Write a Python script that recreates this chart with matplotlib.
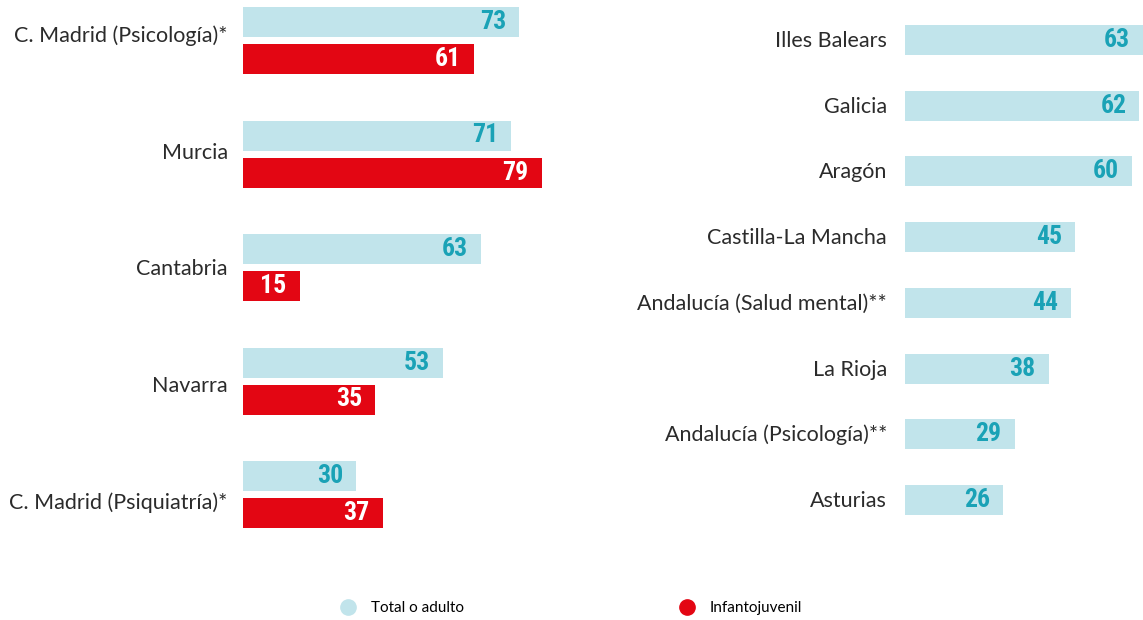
import matplotlib

matplotlib.use("Agg")
import matplotlib.pyplot as plt
from matplotlib.lines import Line2D

# left panel: two series per region
left_regions = [
    "C. Madrid (Psicología)*",
    "Murcia",
    "Cantabria",
    "Navarra",
    "C. Madrid (Psiquiatría)*",
]
left_total = [73, 71, 63, 53, 30]
left_infanto = [61, 79, 15, 35, 37]

# right panel: total only
right_regions = [
    "Illes Balears",
    "Galicia",
    "Aragón",
    "Castilla-La Mancha",
    "Andalucía (Salud mental)**",
    "La Rioja",
    "Andalucía (Psicología)**",
    "Asturias",
]
right_total = [63, 62, 60, 45, 44, 38, 29, 26]

LIGHT = "#c1e4eb"
TEAL = "#1aa2b6"
RED = "#e30613"
TEXT = "#2b2b2b"

LABEL_FONT = ["Lato", "DejaVu Sans"]
NUM_FONT = ["Roboto Condensed", "Liberation Sans Narrow", "DejaVu Sans"]

W, H = 1143, 620
fig = plt.figure(figsize=(W / 100, H / 100), dpi=100)

ax_l = fig.add_axes([243 / W, 0, 378 / W, 1])
ax_r = fig.add_axes([905 / W, 0, 378 / W, 1])

bar_h = 30


def put_values(ax, bars, vals, color):
    for b, v in zip(bars, vals):
        ax.annotate(
            f"{v}",
            xy=(b.get_width(), b.get_y() + b.get_height() / 2),
            xytext=(-13, 0), textcoords="offset pixels",
            ha="right", va="center", fontsize=18.5, fontweight="bold",
            family=NUM_FONT, fontstretch="condensed", color=color,
        )


# left panel
centers_l = [40.5 + i * 113.5 for i in range(len(left_regions))]
b1 = ax_l.barh([c - 18.5 for c in centers_l], left_total, height=bar_h, color=LIGHT)
b2 = ax_l.barh([c + 18.5 for c in centers_l], left_infanto, height=bar_h, color=RED)
put_values(ax_l, b1, left_total, TEAL)
put_values(ax_l, b2, left_infanto, "white")
ax_l.set_yticks([34 + i * 116.7 for i in range(len(left_regions))])
ax_l.set_yticklabels(left_regions)

# right panel
centers_r = [40 + i * 65.7 for i in range(len(right_regions))]
b3 = ax_r.barh(centers_r, right_total, height=bar_h, color=LIGHT)
put_values(ax_r, b3, right_total, TEAL)
ax_r.set_yticks([c - 1 for c in centers_r])
ax_r.set_yticklabels(right_regions)

for ax, pad in ((ax_l, 11), (ax_r, 13)):
    ax.set_xlim(0, 100)
    ax.set_ylim(H, 0)
    ax.set_xticks([])
    for s in ax.spines.values():
        s.set_visible(False)
    ax.tick_params(axis="y", length=0, pad=pad)
    for t in ax.get_yticklabels():
        t.set_family(LABEL_FONT)
        t.set_fontsize(15.5)
        t.set_color(TEXT)
    ax.patch.set_visible(False)

handles = [
    Line2D([], [], marker="o", ls="", color=LIGHT, markersize=11),
    Line2D([], [], marker="o", ls="", color=RED, markersize=11),
]
fig.legend(
    handles, ["Total o adulto", "Infantojuvenil"],
    loc="center left", bbox_to_anchor=(319 / W, 1 - 608 / H),
    ncol=2, frameon=False, columnspacing=13.6, handletextpad=0.5,
    prop={"family": LABEL_FONT, "size": 11},
)

fig.savefig("out.png", dpi=100)
